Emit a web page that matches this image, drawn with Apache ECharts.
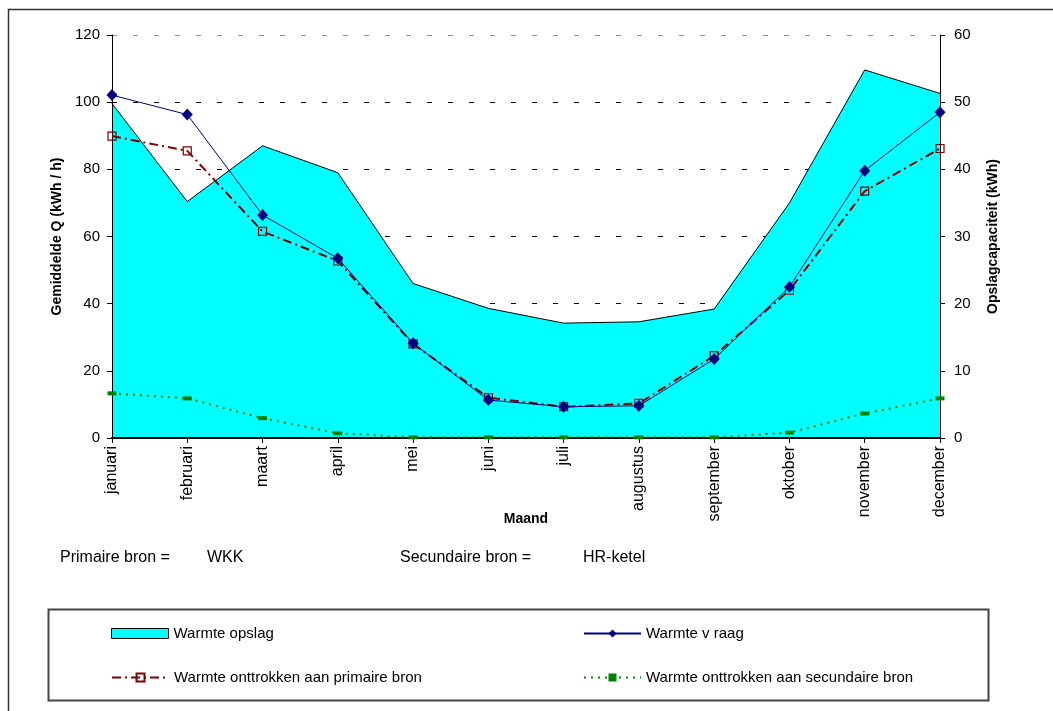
<!DOCTYPE html>
<html>
<head>
<meta charset="utf-8">
<title>Warmte opslag</title>
<script src="https://cdn.jsdelivr.net/npm/echarts@6/dist/echarts.min.js"></script>
<style>
  html, body { margin: 0; padding: 0; background: #fff; }
  #chart { width: 1053px; height: 711px; }
</style>
</head>
<body>
<div id="chart"></div>
<script>
// data
const months = ['januari', 'februari', 'maart', 'april', 'mei', 'juni', 'juli',
  'augustus', 'september', 'oktober', 'november', 'december'];
// Warmte opslag, right axis (kWh)
const opslag = [49.8, 35.2, 43.5, 39.5, 23, 19.3, 17.1, 17.3, 19.2, 35, 54.8, 51.3];
// left axis (kWh / h)
const vraag = [102.1, 96.3, 66.4, 53.5, 28.2, 11.3, 9.3, 9.6, 23.5, 45, 79.6, 97];
const primair = [89.9, 85.5, 61.5, 52.7, 28, 12, 9.3, 10.3, 24.5, 44, 73.5, 86.2];
const secundair = [13.3, 11.8, 5.9, 1.4, 0.2, 0.2, 0.2, 0.2, 0.2, 1.6, 7.3, 11.8];
const leftTicks = { min: 0, max: 120, interval: 20 };
const rightTicks = { min: 0, max: 60, interval: 10 };

const FONT = '"Liberation Sans", Arial, sans-serif';
const chart = echarts.init(document.getElementById('chart'));

const legendBase = {
  selectedMode: false,
  padding: 0,
  itemWidth: 57,
  itemHeight: 10,
  textStyle: { fontFamily: FONT, fontSize: 15, color: '#000' }
};

const option = {
  animation: false,
  backgroundColor: '#fff',
  grid: { left: 112, right: 113, top: 35, bottom: 273 },
  xAxis: {
    type: 'category',
    data: months,
    boundaryGap: false,
    z: 3,
    name: 'Maand',
    nameLocation: 'middle',
    nameGap: 74,
    nameMoveOverlap: false,
    nameTextStyle: { fontFamily: FONT, fontSize: 14, fontWeight: 'bold', color: '#000' },
    axisLine: { lineStyle: { color: '#000', width: 2 } },
    axisTick: { show: true, length: 5, interval: 0, lineStyle: { color: '#000' } },
    axisLabel: { interval: 0, rotate: 90, margin: 8, fontFamily: FONT, fontSize: 16, color: '#000' },
    splitLine: { show: false }
  },
  yAxis: [
    {
      type: 'value',
      position: 'left',
      ...leftTicks,
      z: 3,
      name: 'Gemiddelde Q (kWh / h)',
      nameLocation: 'middle',
      nameRotate: 90,
      nameGap: 48,
      nameTextStyle: { fontFamily: FONT, fontSize: 14, fontWeight: 'bold', color: '#000' },
      axisLine: { show: true, lineStyle: { color: '#000', width: 1 } },
      axisTick: { show: true, length: 5, lineStyle: { color: '#000' } },
      axisLabel: { margin: 12, fontFamily: FONT, fontSize: 15, color: '#000' },
      splitLine: { show: false }
    },
    {
      type: 'value',
      position: 'right',
      ...rightTicks,
      z: 3,
      name: 'Opslagcapaciteit (kWh)',
      nameLocation: 'middle',
      nameRotate: 90,
      nameGap: 46,
      nameTextStyle: { fontFamily: FONT, fontSize: 14, fontWeight: 'bold', color: '#000' },
      axisLine: { show: true, lineStyle: { color: '#000', width: 1 } },
      axisTick: { show: true, length: 5, lineStyle: { color: '#000' } },
      axisLabel: { margin: 14, fontFamily: FONT, fontSize: 15, color: '#000' },
      splitLine: { show: false }
    },
    {
      // gridlines only, kept below the area
      type: 'value',
      position: 'left',
      ...leftTicks,
      z: 0,
      axisLine: { show: false },
      axisTick: { show: false },
      axisLabel: { show: false },
      splitLine: {
        show: true,
        lineStyle: {
          color: ['#000', '#000', '#000', '#000', '#000', '#000', '#909090'],
          type: [5, 16],
          width: 1
        }
      }
    }
  ],
  legend: [
    Object.assign({}, legendBase, {
      left: 111, top: 626,
      data: [{ name: 'Warmte opslag', icon: 'rect',
        itemStyle: { color: '#00ffff', borderColor: '#000', borderWidth: 1 } }]
    }),
    Object.assign({}, legendBase, { left: 583, top: 626, data: ['Warmte v raag'] }),
    Object.assign({}, legendBase, { left: 111, top: 670, data: ['Warmte onttrokken aan primaire bron'] }),
    Object.assign({}, legendBase, { left: 583, top: 670, data: ['Warmte onttrokken aan secundaire bron'] })
  ],
  graphic: [
    { type: 'rect', z: 100, shape: { x: 8.5, y: 9.5, width: 1100, height: 800 },
      style: { fill: 'none', stroke: '#333', lineWidth: 1.5 } },
    { type: 'rect', z: 100, shape: { x: 48.5, y: 609.5, width: 940, height: 91 },
      style: { fill: 'none', stroke: '#444', lineWidth: 2 } },
    { type: 'text', left: 60, top: 550, style: { text: 'Primaire bron =', font: '16px ' + FONT, fill: '#000' } },
    { type: 'text', left: 207, top: 550, style: { text: 'WKK', font: '16px ' + FONT, fill: '#000' } },
    { type: 'text', left: 400, top: 550, style: { text: 'Secundaire bron =', font: '16px ' + FONT, fill: '#000' } },
    { type: 'text', left: 583, top: 550, style: { text: 'HR-ketel', font: '16px ' + FONT, fill: '#000' } }
  ],
  series: [
    {
      name: 'Warmte opslag',
      type: 'line',
      yAxisIndex: 1,
      data: opslag,
      z: 1,
      symbol: 'none',
      lineStyle: { color: '#000', width: 1 },
      itemStyle: { color: '#00ffff' },
      areaStyle: { color: '#00ffff', opacity: 1 }
    },
    {
      name: 'Warmte v raag',
      type: 'line',
      yAxisIndex: 0,
      data: vraag,
      z: 5,
      symbol: 'diamond',
      symbolSize: [11, 12],
      lineStyle: { color: '#000080', width: 1 },
      itemStyle: { color: '#000080' }
    },
    {
      name: 'Warmte onttrokken aan primaire bron',
      type: 'line',
      yAxisIndex: 0,
      data: primair,
      z: 4,
      symbol: 'rect',
      symbolSize: 8,
      lineStyle: { color: '#800000', width: 2, type: [9, 4, 2, 4] },
      itemStyle: { color: 'rgba(0,0,0,0)', borderColor: '#800000', borderWidth: 1.2 }
    },
    {
      name: 'Warmte onttrokken aan secundaire bron',
      type: 'line',
      yAxisIndex: 0,
      data: secundair,
      z: 4,
      symbol: 'rect',
      symbolSize: [9, 4],
      lineStyle: { color: '#008000', width: 2, type: [2, 5] },
      itemStyle: { color: '#008000' }
    }
  ]
};

chart.setOption(option);
</script>
</body>
</html>
